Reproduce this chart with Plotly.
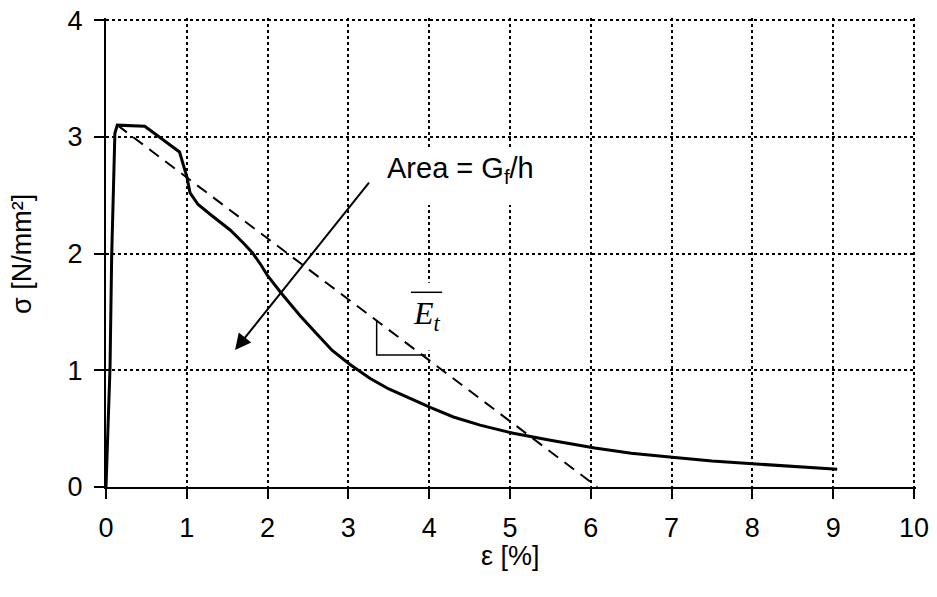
import plotly.graph_objects as go

# Stress-strain curve
strain = [0, 0.05, 0.07, 0.09, 0.11, 0.14, 0.48, 0.91, 1.0, 1.04, 1.14, 1.3, 1.54, 1.7,
          1.82, 1.92, 2.0, 2.17, 2.4, 2.61, 2.8, 3.02, 3.27, 3.5, 3.75, 4.02, 4.3, 4.63,
          5.04, 5.5, 6.05, 6.5, 7.04, 7.5, 8.05, 8.5, 9.05]
stress = [0, 1.03, 1.97, 2.6, 3.03, 3.10, 3.09, 2.87, 2.66, 2.52, 2.42, 2.33, 2.20, 2.09,
          2.0, 1.90, 1.81, 1.66, 1.47, 1.31, 1.17, 1.05, 0.93, 0.84, 0.76, 0.68, 0.60, 0.53,
          0.46, 0.40, 0.335, 0.29, 0.252, 0.222, 0.197, 0.175, 0.152]

# Secant (mean tangent modulus) line
secant_x = [0.14, 6.08]
secant_y = [3.10, 0.0]

# Slope triangle
tri_x = [3.35, 3.35, 3.96]
tri_y = [1.43, 1.13, 1.13]

# E_t label overbar and label position
bar_x = [3.775, 4.16]
bar_y = [1.668, 1.668]
et_pos = [3.97, 1.47]
et_box = [3.70, 4.26, 1.17, 1.75]

# Area label / arrow (tail, head)
area_pos = [4.39, 2.715]
area_box = [3.5, 5.6, 2.415, 2.89]
arrow_tail = [3.27, 2.62]
arrow_head = [1.597, 1.173]

x_ticks = [0, 1, 2, 3, 4, 5, 6, 7, 8, 9, 10]
y_ticks = [0, 1, 2, 3, 4]
# ranges run a hair past the last tick so its grid line is kept
x_range = [0, 10.025]
y_range = [0, 4.018]

SANS = "Liberation Sans, Arial, sans-serif"
SERIF = "Liberation Serif, Times New Roman, serif"

fig = go.Figure()
fig.add_trace(go.Scatter(x=secant_x, y=secant_y, mode="lines",
                         line=dict(color="black", width=2, dash="12px,8px"),
                         showlegend=False, hoverinfo="skip"))
fig.add_trace(go.Scatter(x=strain, y=stress, mode="lines",
                         line=dict(color="black", width=3),
                         showlegend=False))
fig.add_trace(go.Scatter(x=tri_x, y=tri_y, mode="lines",
                         line=dict(color="black", width=1.5),
                         showlegend=False, hoverinfo="skip"))
fig.add_trace(go.Scatter(x=bar_x, y=bar_y, mode="lines",
                         line=dict(color="black", width=1.5),
                         showlegend=False, hoverinfo="skip"))

# White text boxes hiding the grid (drawn between grid and traces)
for bx in (et_box, area_box):
    fig.add_shape(type="rect", xref="x", yref="y", x0=bx[0], x1=bx[1], y0=bx[2], y1=bx[3],
                  fillcolor="white", line=dict(width=0), layer="between")

fig.add_annotation(x=area_pos[0], y=area_pos[1], xref="x", yref="y",
                   text="Area = G<sub>f</sub>/h", showarrow=False,
                   font=dict(family=SANS, size=29, color="black"))
fig.add_annotation(x=et_pos[0], y=et_pos[1], xref="x", yref="y",
                   text="<i>E<sub>t</sub></i>", showarrow=False,
                   font=dict(family=SERIF, size=32, color="black"))
fig.add_annotation(x=arrow_head[0], y=arrow_head[1], xref="x", yref="y",
                   ax=arrow_tail[0], ay=arrow_tail[1], axref="x", ayref="y",
                   text="", showarrow=True, arrowhead=2, arrowsize=1.6,
                   arrowwidth=2, arrowcolor="black")

# Axis titles
fig.add_annotation(x=0.4988, y=-0.147, xref="paper", yref="paper", text="ε [%]",
                   showarrow=False, xanchor="center", yanchor="middle",
                   font=dict(family=SANS, size=27, color="black"))
fig.add_annotation(x=-0.1037, y=0.497, xref="paper", yref="paper", text="σ [N/mm²]",
                   showarrow=False, xanchor="center", yanchor="middle", textangle=-90,
                   font=dict(family=SANS, size=27, color="black"))

# page body has an 8px margin, so the figure is 8px smaller and margins shifted
fig.update_layout(
    width=929, height=589,
    margin=dict(l=98, r=21, t=10, b=110),
    paper_bgcolor="white", plot_bgcolor="white",
    font=dict(family=SANS, size=27, color="black"),
)
common = dict(showgrid=True, gridcolor="black", griddash="dot", gridwidth=2,
              showline=True, linecolor="black", linewidth=2,
              ticks="outside", ticklen=10, tickwidth=2, tickcolor="black",
              zeroline=False, automargin=False, ticklabeloverflow="allow")
fig.update_xaxes(range=x_range, tickvals=x_ticks, ticktext=[str(v) for v in x_ticks],
                 ticklabelstandoff=6, **common)
fig.update_yaxes(range=y_range, tickvals=y_ticks, ticktext=[str(v) for v in y_ticks],
                 ticklabelstandoff=6, **common)

fig.write_html("out.html")
